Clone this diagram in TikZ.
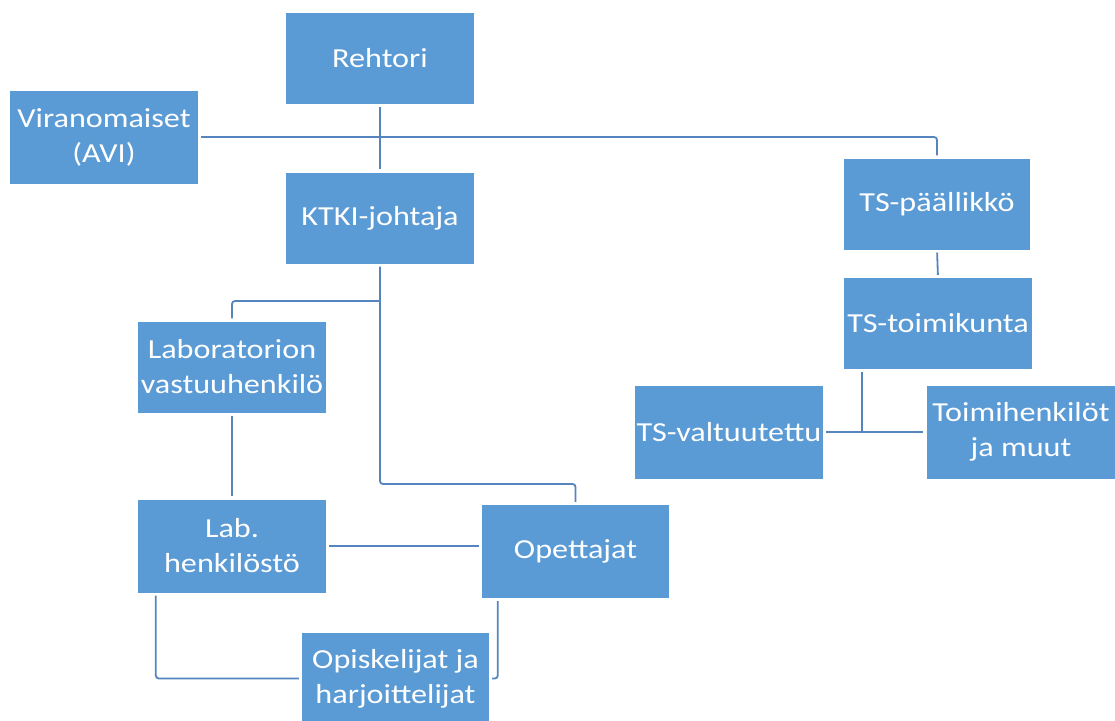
\documentclass[tikz,border=0pt]{standalone}
\usepackage{fontspec}
\setmainfont{Carlito}[FakeStretch=1.17]
\usetikzlibrary{positioning}
\definecolor{laatikkosini}{HTML}{5B9BD5}
\definecolor{viivasini}{HTML}{5585BE}
\tikzset{
    %Define style for boxes
    laatikko/.style={
           rectangle,
           fill=laatikkosini,
           text=white,
           inner sep=0pt,
           minimum width=188pt,
           minimum height=91pt,
           align=center,
           font=\fontsize{27.5}{35}\selectfont},
    % Define connector style
    viiva/.style={
           draw=viivasini,
           line width=1.8pt,
           rounded corners=3pt,
           shorten <=3pt,
           shorten >=3pt,}
}
\begin{document}
\begin{tikzpicture}[x=1pt, y=-1pt]
 \useasboundingbox (0,0) rectangle (1115,720);
 % left branch
 \node[laatikko] (rehtori) at (380,58) {Rehtori};
 \node[laatikko, minimum height=93pt] (viran) at (104,137) {Viranomaiset\\(AVI)};
 \node[laatikko] (ktki) at (380,218) {KTKI-johtaja};
 \node[laatikko] (labvast) at (232,367) {Laboratorion\\vastuuhenkilö};
 \node[laatikko, minimum height=93pt] (labhenk) at (232,546) {Lab.\\henkilöstö};
 \node[laatikko, minimum width=187pt, minimum height=93pt] (opett) at (575.5,551.5) {Opettajat};
 \node[laatikko, minimum width=187pt] (opisk) at (395.5,678.5) {Opiskelijat ja\\harjoittelijat};
 % right branch
 \node[laatikko, minimum width=186pt] (tspaal) at (937,204) {TS-päällikkö};
 \node[laatikko] (tstoimi) at (938,323.5) {TS-toimikunta};
 \node[laatikko, minimum height=93pt] (tsvalt) at (729,432) {TS-valtuutettu};
 \node[laatikko, minimum width=189pt, minimum height=93pt] (toimih) at (1021,432) {Toimihenkilöt\\ja muut};

 \coordinate (kfork) at (380,301);
 \coordinate (opbend) at (380,484);

 \draw[viiva] (rehtori.south) -- (ktki.north);
 \draw[viiva] (viran.east) -| (tspaal.north);
 \draw[viiva] (ktki.south) -- (opbend) -| (opett.north);
 \draw[viiva, shorten <=0pt] (kfork) -| (labvast.north);
 \draw[viiva] (labvast.south) -- (labhenk.north);
 \draw[viiva] (labhenk.east) -- (labhenk.east -| opett.west);
 \draw[viiva] (labhenk.south west) ++(18,0) |- (opisk.west);
 \draw[viiva] (opett.south west) ++(16,0) |- (opisk.east);
 \draw[viiva] (tspaal.south) -- (tstoimi.north);
 \draw[viiva] (tsvalt.east) -- (toimih.west);
 \draw[viiva, shorten >=0pt] (tstoimi.south west) ++(18,0) coordinate (tsdrop) -- (tsdrop |- tsvalt.east);
\end{tikzpicture}
\end{document}
